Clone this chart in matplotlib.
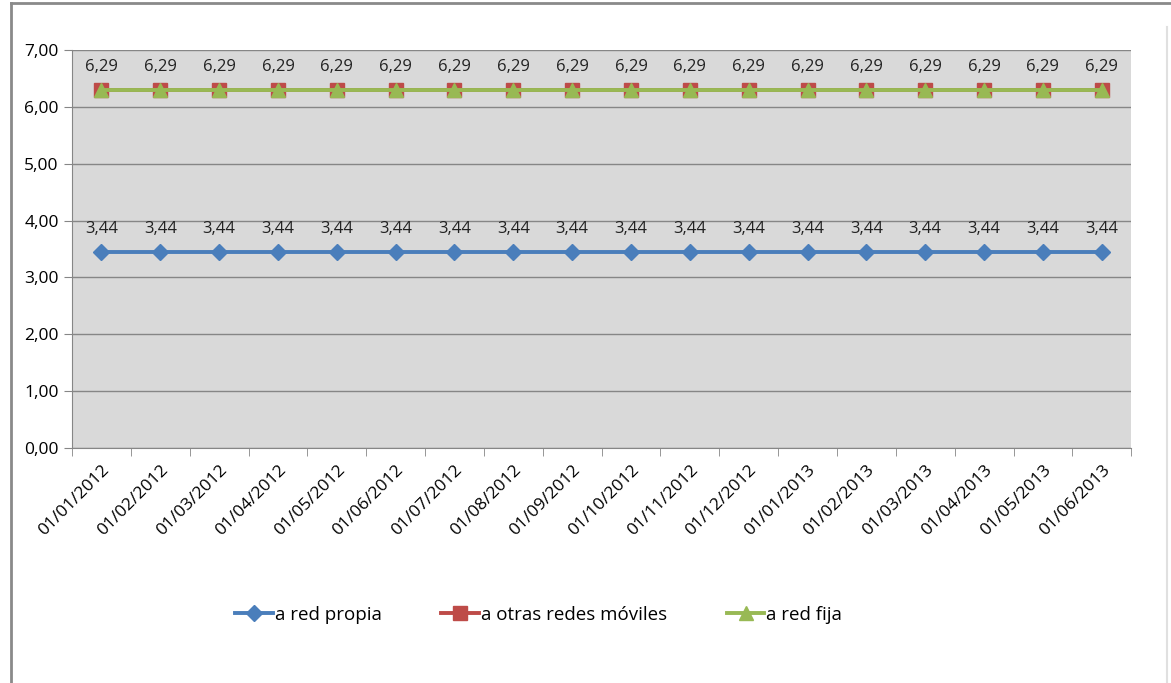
import matplotlib.pyplot as plt
import numpy as np
from matplotlib.lines import Line2D

plt.rcParams['font.family'] = ['Open Sans', 'DejaVu Sans']

fechas = ["01/01/2012", "01/02/2012", "01/03/2012", "01/04/2012", "01/05/2012",
          "01/06/2012", "01/07/2012", "01/08/2012", "01/09/2012", "01/10/2012",
          "01/11/2012", "01/12/2012", "01/01/2013", "01/02/2013", "01/03/2013",
          "01/04/2013", "01/05/2013", "01/06/2013"]
red_propia = [3.44] * 18
otras_moviles = [6.29] * 18
red_fija = [6.29] * 18

x = np.arange(len(fechas))

fig = plt.figure(figsize=(11.71, 6.83), dpi=100)
ax = fig.add_axes([0.0615, 0.344, 0.9045, 0.583])
ax.set_facecolor('#d9d9d9')

ax.plot(x, red_propia, color='#4a7ebb', lw=2.8, marker='D', ms=8, zorder=3)
ax.plot(x, otras_moviles, color='#be4b48', lw=2.8, marker='s', ms=10, zorder=3)
ax.plot(x, red_fija, color='#98b954', lw=2.8, marker='^', ms=10, zorder=4)

for xi, v in zip(x, red_propia):
    ax.annotate(f"{v:.2f}".replace('.', ','), (xi, v), xytext=(0, 17),
                textcoords='offset points', ha='center', va='center', fontsize=12, color='#222222')
for xi, v in zip(x, otras_moviles):
    ax.annotate(f"{v:.2f}".replace('.', ','), (xi, v), xytext=(0, 17),
                textcoords='offset points', ha='center', va='center', fontsize=12, color='#222222')

ax.set_xlim(-0.5, len(fechas) - 0.5)
ax.set_ylim(0, 7)
ax.set_yticks(np.arange(0, 8, 1))
ax.set_yticklabels([f"{v:.2f}".replace('.', ',') for v in np.arange(0, 8, 1)], fontsize=12.5)
ax.set_xticks(x)
ax.set_xticklabels(fechas, rotation=45, ha='right', rotation_mode='anchor', fontsize=12.5)
ax.set_xticks(np.arange(-0.5, len(fechas)), minor=True)
ax.tick_params(axis='x', which='major', length=0, pad=10)
ax.tick_params(axis='x', which='minor', length=6, color='#868686')
ax.tick_params(axis='y', length=6, color='#868686')
ax.grid(axis='y', color='#868686', lw=1)
ax.set_axisbelow(True)
for s in ['top', 'right']:
    ax.spines[s].set_visible(False)
ax.spines['left'].set_color('#868686')
ax.spines['bottom'].set_color('#868686')

handles = [
    Line2D([], [], color='#4a7ebb', lw=2.8, marker='D', ms=8),
    Line2D([], [], color='#be4b48', lw=2.8, marker='s', ms=10),
    Line2D([], [], color='#98b954', lw=2.8, marker='^', ms=10),
]
fig.legend(handles, ["a red propia", "a otras redes móviles", "a red fija"],
           loc='center', bbox_to_anchor=(0.46, 0.1), ncol=3, frameon=False,
           fontsize=13.5, handlelength=2.0, handletextpad=0.1, columnspacing=3.2)

# marco exterior
fig.add_artist(Line2D([0.009, 0.009], [0.0, 0.995], transform=fig.transFigure, color='#8a8a8a', lw=2))
fig.add_artist(Line2D([0.009, 1.0], [0.995, 0.995], transform=fig.transFigure, color='#8a8a8a', lw=2))
fig.add_artist(Line2D([0.997, 0.997], [0.0, 0.96], transform=fig.transFigure, color='#e0e0e0', lw=1.5))

fig.savefig("out.png", dpi=100)
